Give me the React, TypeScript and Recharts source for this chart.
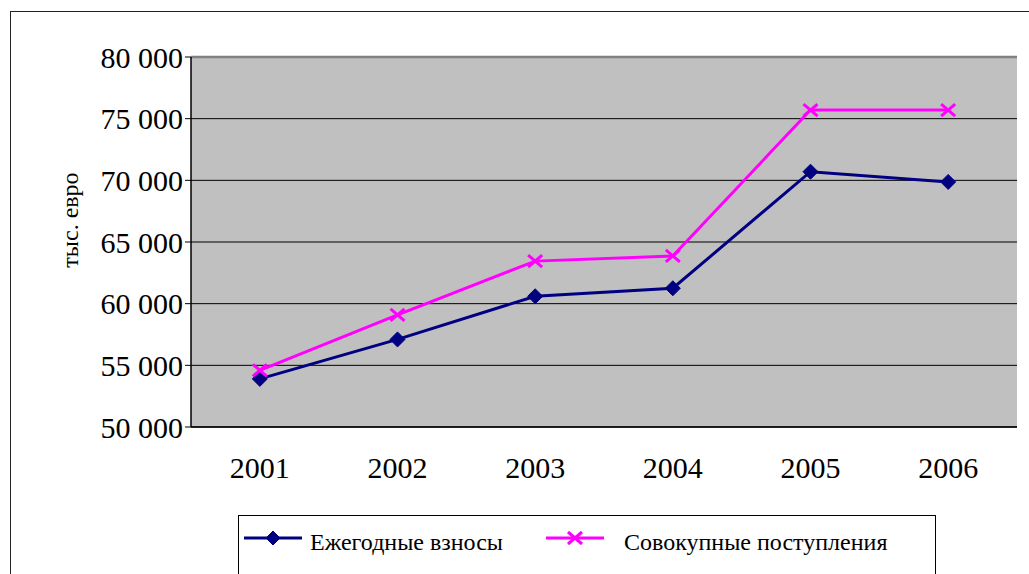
import React from "react";
import { LineChart, Line, XAxis, YAxis, CartesianGrid, ReferenceLine, Label } from "recharts";

const years = ["2001", "2002", "2003", "2004", "2005", "2006"];
const annualContributions = [53900, 57100, 60600, 61250, 70700, 69870];
const totalReceipts = [54600, 59100, 63450, 63870, 75700, 75700];
const yTicks = [50000, 55000, 60000, 65000, 70000, 75000, 80000];
const edgeTicks = [0, 1, 2, 3, 4, 5, 6];

const series = [
  { key: "annual", name: "Ежегодные взносы", color: "#000080", marker: "diamond" },
  { key: "total", name: "Совокупные поступления", color: "#FF00FF", marker: "cross" },
];

const data = years.map((year, i) => ({
  year,
  annual: annualContributions[i],
  total: totalReceipts[i],
}));

const FONT = "'Liberation Serif', 'Times New Roman', serif";

const fmt = (v: number) => String(v).replace(/\B(?=(\d{3})+(?!\d))/g, " ");

const Diamond = ({ cx, cy, color, r = 7.5 }: any) => (
  <polygon
    points={`${cx},${cy - r} ${cx + r},${cy} ${cx},${cy + r} ${cx - r},${cy}`}
    fill={color}
    stroke={color}
    strokeWidth={1}
  />
);

const Cross = ({ cx, cy, color, w = 7, h = 6 }: any) => (
  <g stroke={color} strokeWidth={3}>
    <line x1={cx - w} y1={cy - h} x2={cx + w} y2={cy + h} />
    <line x1={cx - w} y1={cy + h} x2={cx + w} y2={cy - h} />
  </g>
);

const Marker = (props: any, s: any) =>
  props.cx == null ? null : s.marker === "diamond" ? (
    <Diamond key={props.index} cx={props.cx} cy={props.cy} color={s.color} />
  ) : (
    <Cross key={props.index} cx={props.cx} cy={props.cy} color={s.color} />
  );

const LegendBox = () => (
  <div
    style={{
      position: "absolute",
      left: 238,
      top: 515,
      width: 696,
      height: 80,
      border: "1.5px solid #000",
      background: "#fff",
      fontFamily: FONT,
      fontSize: 24,
    }}
  >
    {series.map((s, i) => (
      <div
        key={s.key}
        style={{ position: "absolute", left: i === 0 ? 5 : 307, top: 3, display: "flex", alignItems: "center" }}
      >
        <svg width={58} height={26}>
          <line x1={0} y1={13} x2={58} y2={13} stroke={s.color} strokeWidth={3} />
          {s.marker === "diamond" ? (
            <Diamond cx={29} cy={13} color={s.color} r={7} />
          ) : (
            <Cross cx={29} cy={13} color={s.color} />
          )}
        </svg>
        <span style={{ marginLeft: i === 0 ? 8 : 20, marginTop: 10, color: "#000" }}>{s.name}</span>
      </div>
    ))}
  </div>
);

export default function App() {
  return (
    <div
      style={{
        position: "fixed",
        left: 0,
        top: 0,
        width: 1029,
        height: 574,
        overflow: "hidden",
        background: "#fff",
      }}
    >
      <div
        style={{
          position: "absolute",
          left: 10,
          top: 11,
          width: 1100,
          height: 700,
          borderLeft: "1.5px solid #222",
          borderTop: "1.5px solid #222",
        }}
      />
      <div style={{ position: "absolute", left: 0, top: 0 }}>
        <LineChart
          width={1029}
          height={574}
          data={data}
          margin={{ top: 57, right: 12, left: 0, bottom: 145 }}
        >
          <CartesianGrid
            vertical={false}
            horizontal={true}
            fill="#C0C0C0"
            stroke="#000"
            strokeWidth={1}
          />
          <XAxis
            xAxisId="edge"
            type="number"
            domain={[0, 6]}
            ticks={edgeTicks}
            allowDataOverflow
            tick={false}
            tickSize={6}
            height={1}
            axisLine={false}
            tickLine={{ stroke: "#000", strokeWidth: 1 }}
          />
          <XAxis
            xAxisId="cat"
            dataKey="year"
            type="category"
            scale="band"
            height={1}
            tickSize={0}
            tickMargin={30}
            axisLine={{ stroke: "#000", strokeWidth: 1.5 }}
            tickLine={false}
            tick={{ fill: "#000", fontSize: 30, fontFamily: FONT }}
          />
          <YAxis
            width={191}
            domain={[50000, 80000]}
            ticks={yTicks}
            tickFormatter={fmt}
            tickSize={6}
            tickMargin={2}
            axisLine={{ stroke: "#000", strokeWidth: 1.5 }}
            tickLine={{ stroke: "#000", strokeWidth: 1 }}
            tick={{ fill: "#000", fontSize: 30, fontFamily: FONT }}
          >
            <Label
              content={({ viewBox }: any) => {
                const x = viewBox.x + 70;
                const y = viewBox.y + viewBox.height / 2 - 22;
                return (
                  <text
                    x={x}
                    y={y}
                    transform={`rotate(-90 ${x} ${y})`}
                    textAnchor="middle"
                    dominantBaseline="central"
                    fontFamily={FONT}
                    fontSize={24}
                    fill="#000"
                  >
                    тыс. евро
                  </text>
                );
              }}
            />
          </YAxis>
          <ReferenceLine y={80000} xAxisId="cat" stroke="#808080" strokeWidth={2.5} />
          <ReferenceLine x={6} xAxisId="edge" stroke="#808080" strokeWidth={2.5} />
          {series.map((s) => (
            <Line
              key={s.key}
              xAxisId="cat"
              dataKey={s.key}
              name={s.name}
              type="linear"
              stroke={s.color}
              strokeWidth={3}
              dot={(p: any) => Marker(p, s)}
              activeDot={false}
              isAnimationActive={false}
            />
          ))}
        </LineChart>
      </div>
      <LegendBox />
    </div>
  );
}
